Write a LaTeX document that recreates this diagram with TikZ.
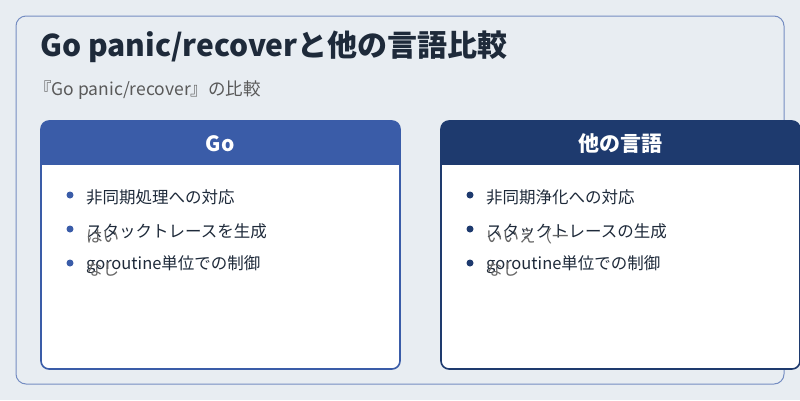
\documentclass[tikz,border=0pt]{standalone}
\usepackage{fontspec}
\setmainfont{Noto Sans CJK JP}
\begin{document}
\begin{tikzpicture}[x=1pt,y=-1pt,
  card/.style={rounded corners=8pt,line width=1.6pt,fill=white},
  item/.style={anchor=west,font=\fontsize{16.5}{18}\selectfont,text=txt,inner sep=0},
  over/.style={anchor=west,font=\fontsize{16.5}{18}\selectfont,text=gray!80!black,inner sep=0},
  dot/.style={circle,inner sep=0,minimum size=7pt}]
\definecolor{bg}{HTML}{E8EDF2}
\definecolor{txt}{HTML}{1E2A3A}
\definecolor{goc}{HTML}{3A5CA8}
\definecolor{oth}{HTML}{1E3A6E}
\useasboundingbox (0,0) rectangle (800,400);
\fill[bg] (0,0) rectangle (800,400);
\draw[rounded corners=10pt,draw=goc!70,line width=1pt,fill=bg] (16,16) rectangle (784,384);
\node[anchor=west,inner sep=0,font=\bfseries\fontsize{30}{34}\selectfont,text=txt] (title) at (40,47) {Go panic/recoverと他の言語比較};
\node[anchor=west,inner sep=0,font=\fontsize{17.5}{20}\selectfont,text=gray!70!black] (sub) at (34,90) {『Go panic/recover』の比較};
% left card
\draw[card,draw=goc] (41,121) rectangle (400,369);
\begin{scope}
\clip[rounded corners=8pt] (41,121) rectangle (400,369);
\fill[goc] (41,121) rectangle (400,165);
\end{scope}
\node[font=\bfseries\fontsize{21}{24}\selectfont,text=white] (gh) at (220,144) {Go};
\node[dot,fill=goc] (d1) at (70,195) {};
\node[dot,fill=goc] (d2) at (70,229) {};
\node[dot,fill=goc] (d3) at (70,263) {};
\node[item] (g1) at (86,197) {非同期処理への対応};
\node[item] (g2) at (86,231) {スタックトレースを生成};
\node[item] (g3) at (86,265) {goroutine単位での制御};
\node[over] (g2o) at (86,236) {はい};
\node[over] (g3o) at (86,269) {なし};
% right card
\draw[card,draw=oth] (441,121) rectangle (800,369);
\begin{scope}
\clip[rounded corners=8pt] (441,121) rectangle (800,369);
\fill[oth] (441,121) rectangle (800,165);
\end{scope}
\node[font=\bfseries\fontsize{21}{24}\selectfont,text=white] (oh) at (620,144) {他の言語};
\node[dot,fill=oth] (e1) at (470,195) {};
\node[dot,fill=oth] (e2) at (470,229) {};
\node[dot,fill=oth] (e3) at (470,263) {};
\node[item] (o1) at (486,197) {非同期浄化への対応};
\node[item] (o2) at (486,231) {スタックトレースの生成};
\node[item] (o3) at (486,265) {goroutine単位での制御};
\node[over] (o2o) at (486,236) {いいえ（一};
\node[over] (o3o) at (486,269) {なし};
\end{tikzpicture}
\end{document}
